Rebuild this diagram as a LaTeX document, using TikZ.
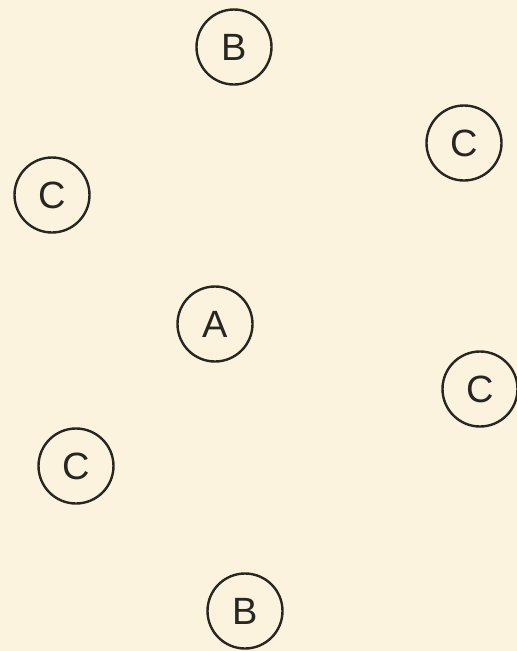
\documentclass[tikz,border=0pt]{standalone}
\usepackage{fontspec}
\setmainfont{Liberation Sans}
\usepackage{tikz}
\usetikzlibrary{positioning}
\definecolor{paper}{RGB}{251,243,221}
\definecolor{ink}{RGB}{40,38,34}

\begin{document}
\begin{tikzpicture}[x=1pt, y=-1pt, every node/.style={font=\fontsize{38}{40}\selectfont, text=ink},
    site/.style={draw=ink, line width=2.4pt, circle, minimum size=75pt, inner sep=0pt}]
        \fill[paper] (0,0) rectangle (517,651);
        \useasboundingbox (0,0) rectangle (517,651);
        \node[site] (topB) at (234,47) {B};
        \node[site] (rightC1) at (464,143) {C};
        \node[site] (leftC1) at (52,195) {C};
        \node[site] (midA) at (215,324) {A};
        \node[site] (rightC2) at (480,389) {C};
        \node[site] (leftC2) at (76,466) {C};
        \node[site] (botB) at (245,611) {B};
    \end{tikzpicture}
\end{document}
